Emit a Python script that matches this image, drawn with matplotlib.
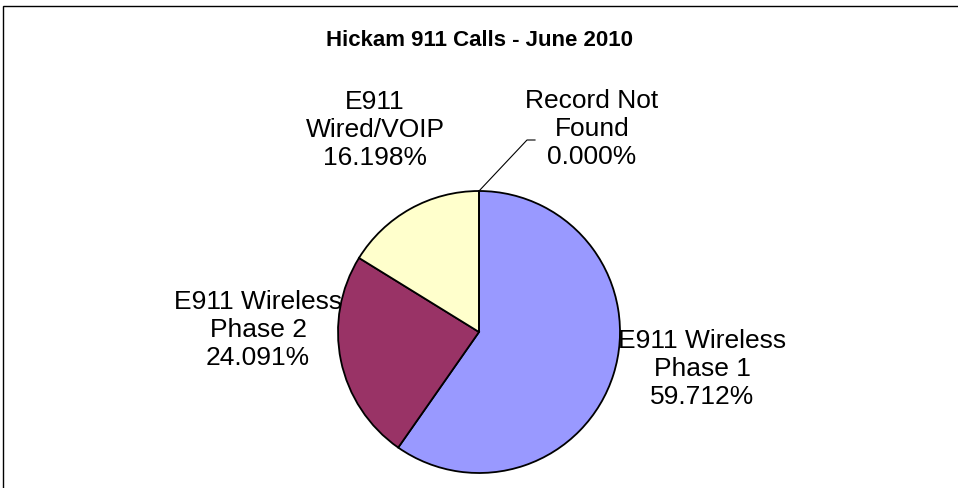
import matplotlib
matplotlib.use("Agg")
import matplotlib.pyplot as plt
from matplotlib.patches import Rectangle
from matplotlib.lines import Line2D

# Data
categories = ["E911 Wireless\nPhase 1", "E911 Wireless\nPhase 2", "E911\nWired/VOIP", "Record Not\nFound"]
percents = [59.712, 24.091, 16.198, 0.000]
colors = ["#9999FF", "#993366", "#FFFFCC", "#FFFFFF"]

plt.rcParams['font.family'] = ['Liberation Sans', 'DejaVu Sans']

W, H = 958, 489
fig = plt.figure(figsize=(W / 100, H / 100), dpi=100)

# outer chart border (only top/left visible in the original crop)
fig.patches.append(Rectangle((3 / W, -0.1), 1.2, (H - 7) / H + 0.1, transform=fig.transFigure,
                             fill=False, edgecolor="black", linewidth=1.0))

fig.text(479 / W, 1 - 40 / H, "Hickam 911 Calls - June 2010", ha="center", va="center",
         fontsize=16, fontweight="bold")

# pie axes, centred at (479, 333) px, radius 141 px
cx, cy, r = 479, 333, 141
ax = fig.add_axes([(cx - r) / W, 1 - (cy + r) / H, 2 * r / W, 2 * r / H])
ax.pie(percents, colors=colors, startangle=90, counterclock=False,
       wedgeprops=dict(edgecolor="black", linewidth=1.3), radius=1.0)
ax.set_xlim(-1, 1)
ax.set_ylim(-1, 1)
ax.set_aspect("auto")

# label positions in pixels (Excel placed them by hand)
label_pos = [(702, 369), (258, 330), (375, 130), (592, 129)]
for cat, p, (x, y) in zip(categories, percents, label_pos):
    fig.text(x / W, 1 - y / H, f"{cat}\n{p:.3f}%", ha="center", va="center",
             fontsize=19, linespacing=1.2)

# leader line for the zero slice
ax.add_line(Line2D([0, 48 / r, 56 / r], [1, 1 + 51 / r, 1 + 51 / r], color="black",
                   linewidth=0.8, clip_on=False))

fig.savefig("out.png", dpi=100)
